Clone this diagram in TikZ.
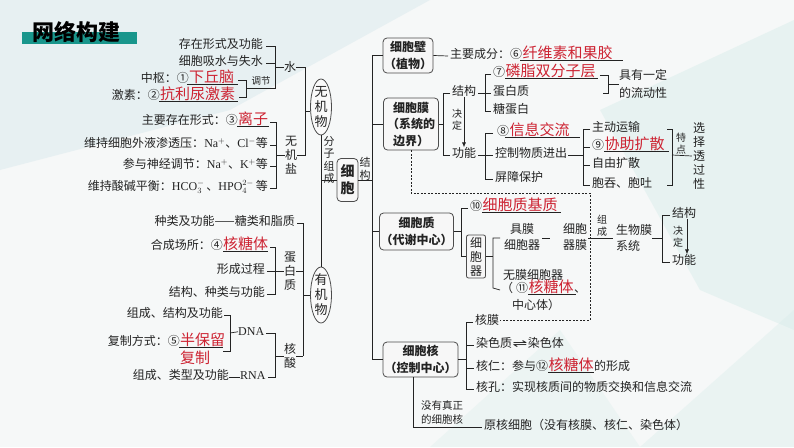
\documentclass[tikz,border=0pt]{standalone}
\usepackage{fontspec}
\setmainfont{Noto Sans CJK SC}
\newfontfamily\lat{Liberation Serif}
\newfontfamily\djv{DejaVu Sans}
\usetikzlibrary{arrows.meta,shapes.geometric}
\definecolor{ansred}{RGB}{205,35,50}
\definecolor{ttl}{RGB}{25,150,140}
\definecolor{ink}{RGB}{35,35,35}
\definecolor{bgc}{RGB}{246,248,248}
\definecolor{bgb}{RGB}{226,237,240}
\definecolor{bgt}{RGB}{214,236,233}
\newcommand\ansline[3]{\draw[ln] ([xshift=#2pt,yshift=-0.5pt]#1.south west) -- ([xshift=#3pt,yshift=-0.5pt]#1.south east);}
\tikzset{
  t/.style={inner sep=0pt, text=ink, font=\fontsize{12}{14}\selectfont},
  a/.style={inner sep=0pt, text=ansred, font=\fontsize{15}{17}\selectfont},
  sm/.style={inner sep=0pt, text=ink, font=\fontsize{10}{12}\selectfont, align=center},
  vt/.style={inner sep=0pt, text=ink, font=\fontsize{12}{14}\selectfont, align=center},
  bx/.style={draw=black!70, line width=0.8pt, rounded corners=4pt, fill=black!3, align=center, inner sep=0pt, text=ink, font=\fontsize{12}{16.5}\selectfont\bfseries},
  el/.style={ellipse, draw=black!70, line width=0.8pt, fill=black!2, inner xsep=0pt, inner ysep=-5pt, minimum width=21pt, minimum height=56pt, align=center, text=ink, font=\fontsize{13}{15}\selectfont},
  ln/.style={draw=ink, line width=0.7pt},
  dsh/.style={draw=ink, line width=0.6pt, dash pattern=on 2pt off 1.5pt},
  arr/.style={ln, -{Latex[length=5pt,width=4pt]}},
}
\begin{document}
\begin{tikzpicture}[x=1pt,y=-1pt]
% background
\fill[bgc] (0,0) rectangle (794,447);
\fill[bgb, opacity=0.7] (0,0) -- (430,0) -- (230,110) -- (0,170) -- cycle;
\fill[bgt, opacity=0.45] (600,110) -- (794,20) -- (794,330) -- (700,290) -- cycle;
\fill[bgt, opacity=0.35] (640,447) -- (794,310) -- (794,447) -- cycle;
\fill[bgt, opacity=0.3] (430,447) -- (560,330) -- (640,447) -- cycle;
\useasboundingbox (0,0) rectangle (794,447);

% title
\fill[ttl] (22,31.5) rectangle (137,43.5);
\node[inner sep=0pt, font=\fontsize{22}{24}\selectfont\bfseries] (title) at (76,32) {网络构建};

% ---------- water ----------
\node[t, anchor=mid east] (w1) at (263,46) {存在形式及功能};
\node[t, anchor=mid east] (w2) at (263,63) {细胞吸水与失水};
\node[a, anchor=mid west] (w3a) at (189,80) {下丘脑};
\node[t, anchor=mid east] (w3) at (w3a.mid west) {中枢：①};
\node[a, anchor=mid west] (w4a) at (160,97) {抗利尿激素};
\node[t, anchor=mid east] (w4) at (w4a.mid west) {激素：②};
\ansline{w3a}{-2}{4}
\ansline{w4a}{-1}{3}
\coordinate (tj) at (246,88);
\draw[ln] (w3a.mid east) ++(4,0) -| (tj);
\draw[ln] (w4a.mid east) ++(4,0) -| (tj);
\node[sm, font=\fontsize{9.5}{11}\selectfont] (tjl) at (261,81) {调节};
\node[vt] (shui) at (290,67) {水};
\draw[ln] (w1.mid east) ++(3,0) -- ++(9,0) |- (tj);
\draw[ln] (w2.mid east) ++(3,0) -- ++(9,0);
\draw[ln] (275,67) -- (shui.west);

% ---------- inorganic salt ----------
\node[a, anchor=mid west] (s1a) at (238,122) {离子};
\node[t, anchor=mid east] (s1) at (s1a.mid west) {主要存在形式：③};
\ansline{s1a}{-1}{1}
\node[t, anchor=mid east] (s2) at (268,145) {维持细胞外液渗透压：{\lat Na$^{+}$}、{\lat Cl$^{-}$}等};
\node[t, anchor=mid east] (s3) at (268,166) {参与神经调节：{\lat Na$^{+}$}、{\lat K$^{+}$}等};
\node[t, anchor=mid east] (s4) at (268,188) {维持酸碱平衡：{\lat HCO$_3^{-}$}\,、{\lat HPO$_4^{2-}$}\,等};
\node[vt] (yjy) at (291,155) {无\\机\\盐};
\coordinate (bs2) at (276,188);
\draw[ln] (s1a.mid east) ++(2,0) -| (bs2) -- ([xshift=2pt]s4.mid east);
\draw[ln] (s2.mid east) ++(2,0) -- ++(6,0);
\draw[ln] (s3.mid east) ++(2,0) -- ++(6,0);
\draw[ln] (276,155) -- (yjy.west);

% ---------- inorganic matter ----------
\node[el] (wjw) at (321,107) {无\\机\\物};
\coordinate (v1t) at (305,67);
\coordinate (v1b) at (305,155);
\draw[ln] (shui.east) -- (v1t) -- (v1b) -- (yjy.east);
\draw[ln] (305,111) -- (wjw.west |- 305,111);
\node[sm, font=\fontsize{11}{12.5}\selectfont] (fzzc) at (329,160) {分\\子\\组\\成};

% ---------- cell ----------
\node[bx, font=\fontsize{14}{17}\selectfont\bfseries, minimum width=21pt, minimum height=43pt] (xb) at (347.5,180) {细\\胞};
\node[sm, font=\fontsize{11}{12.5}\selectfont] (jgl) at (365,169) {结\\构};
\node[el] (yjw) at (321,295) {有\\机\\物};
\draw[ln] (wjw.south) -- (yjw.north);
\draw[ln] (wjw.south |- xb.west) -- (xb.west);
\coordinate (sp1) at (372,55);
\coordinate (sp2) at (372,360);
\draw[ln] (sp1) -- (sp2);
\draw[ln] (xb.east) -- (xb.east -| sp1);

% ---------- organic matter ----------
\coordinate (v2t) at (303,223);
\coordinate (v2b) at (303,356);
\draw[ln] (v2t) -- (v2b);
\draw[ln] (303,295) -- (yjw.west);
\node[t, anchor=mid east] (o1) at (295,223) {种类及功能——糖类和脂质};
\draw[ln] (o1.mid east) ++(2,0) -- (v2t);

\node[a, anchor=mid west] (p1a) at (223,247) {核糖体};
\node[t, anchor=mid east] (p1) at (p1a.mid west) {合成场所：④};
\ansline{p1a}{0}{0}
\node[t, anchor=mid east] (p2) at (265,271) {形成过程};
\node[t, anchor=mid east] (p3) at (265,294) {结构、种类与功能};
\node[vt] (dbz) at (290,271) {蛋\\白\\质};
\coordinate (bp2) at (275,294);
\draw[ln] (p1a.mid east) ++(2,0) -| (bp2) -- ([xshift=2pt]p3.mid east);
\draw[ln] (p2.mid east) ++(2,0) -- (dbz.west);
\draw[ln] (dbz.east) -- (dbz.east -| v2t);

\node[t, anchor=mid east] (d1) at (223,315) {组成、结构及功能};
\node[a, anchor=mid west] (d2a) at (180,343) {半保留};
\node[t, anchor=mid east] (d2) at (d2a.mid west) {复制方式：⑤};
\node[a, anchor=mid west] (d2b) at (180,361) {复制};
\ansline{d2a}{-1}{-2}
\coordinate (bd) at (230,351);
\draw[ln] (d1.mid east) ++(1,0) -| (bd) -- ++(-7,0);
\node[inner sep=0pt, text=ink, anchor=mid west, font=\lat\fontsize{12}{14}\selectfont] (dna) at (238,333) {DNA};
\draw[ln] (230,333) -- (dna.west);
\node[t, anchor=mid east] (d3) at (229,377) {组成、类型及功能};
\node[inner sep=0pt, text=ink, anchor=mid west, font=\lat\fontsize{12}{14}\selectfont] (rna) at (240,377) {RNA};
\draw[ln] (d3.mid east) -- (rna.mid west);
\node[vt] (hs) at (290,356) {核\\酸};
\coordinate (bn) at (275,377);
\draw[ln] (dna.mid east) ++(2,0) -| (bn) -- ([xshift=2pt]rna.mid east);
\draw[ln] (275,356) -- (hs.west);
\draw[ln] (hs.east) -- (v2b);

% ---------- cell wall ----------
\node[bx, minimum width=50pt, minimum height=35pt] (cbb) at (408,55.5) {细胞壁\\（植物）};
\draw[ln] (cbb.west -| sp1) -- (cbb.west);
\node[t, anchor=mid west] (cw1) at (450,56) {主要成分：⑥};
\node[a, anchor=mid west] (cw1a) at (cw1.mid east) {纤维素和果胶};
\ansline{cw1a}{-2}{10}
\draw[ln] (cbb.east) -- ([xshift=-2pt]cw1.mid west);

% ---------- cell membrane ----------
\node[bx, minimum width=55pt, minimum height=52pt] (cbm) at (411,124) {细胞膜\\（系统的\\边界）};
\draw[ln] (cbm.west -| sp1) -- (cbm.west);
\node[t, anchor=mid west] (mjg) at (452,93) {结构};
\node[t, anchor=mid west] (mgn) at (452,155) {功能};
\draw[ln] (mjg.mid west) ++(-2,0) -| (443,155) -- ([xshift=-2pt]mgn.mid west);
\draw[ln] (cbm.east) -- (cbm.east -| 443,0);
\node[sm] (jd1) at (457,120) {决\\定};
\draw[arr] (mjg.south -| 464,0) -- (mgn.north -| 464,0);

\node[t, anchor=mid west] (m7) at (493,74) {⑦};
\node[a, anchor=mid west] (m7a) at (m7.mid east) {磷脂双分子层};
\ansline{m7a}{0}{2}
\node[t, anchor=mid west] (m8b) at (493,93) {蛋白质};
\node[t, anchor=mid west] (m9b) at (493,111) {糖蛋白};
\draw[ln] (mjg.mid east) ++(2,0) -- ([xshift=-2pt]m8b.mid west);
\draw[ln] (m7.mid west) ++(-2,0) -| (485,111) -- ([xshift=-2pt]m9b.mid west);
\node[t, anchor=west, align=left, font=\fontsize{12}{18}\selectfont] (lds) at (619,84) {具有一定\\的流动性};
\draw[ln] (m7a.mid east) ++(4,1) -- (608,75) -- (608,93) -- ++(-5,0);
\draw[ln] (608,84) -- (lds.west);

\node[t, anchor=mid west] (f8) at (497,133) {⑧};
\node[a, anchor=mid west] (f8a) at (f8.mid east) {信息交流};
\ansline{f8a}{-4}{10}
\node[t, anchor=mid west] (f2) at (495,155) {控制物质进出};
\node[t, anchor=mid west] (f3) at (495,179) {屏障保护};
\draw[ln] (mgn.mid east) ++(2,0) -- ([xshift=-2pt]f2.mid west);
\draw[ln] (f8.mid west) ++(-4,0) -| (485,179) -- ([xshift=-2pt]f3.mid west);

\node[t, anchor=mid west] (g1) at (592,129) {主动运输};
\node[t, anchor=mid west] (g2) at (592,147) {⑨};
\node[a, anchor=mid west] (g2a) at (g2.mid east) {协助扩散};
\ansline{g2a}{0}{4}
\node[t, anchor=mid west] (g3) at (592,165) {自由扩散};
\node[t, anchor=mid west] (g4) at (592,185) {胞吞、胞吐};
\draw[ln] (f2.mid east) ++(1,0) -- (583,155);
\draw[ln] (g1.mid west) ++(-2,0) -| (583,185) -- ([xshift=-2pt]g4.mid west);
\draw[ln] (583,147) -- ([xshift=-2pt]g2.mid west);
\draw[ln] (583,165) -- ([xshift=-2pt]g3.mid west);
\coordinate (tdb) at (672,185);
\draw[ln] (667,129) -| (tdb) -- ++(-5,0);
\node[sm] (td) at (681,144) {特\\点};
\node[vt] (xz) at (699,156) {选\\择\\透\\过\\性};
\draw[ln] (672,155) -- ([xshift=-1pt]xz.west);

% ---------- cytoplasm ----------
\node[bx, minimum width=74pt, minimum height=37pt] (cbz) at (416.5,231.5) {细胞质\\（代谢中心）};
\draw[ln] (cbz.west -| sp1) -- (cbz.west);
\node[t, anchor=mid west] (z10) at (470,208) {⑩};
\node[a, anchor=mid west] (z10a) at (z10.mid east) {细胞质基质};
\ansline{z10a}{0}{3}
\node[bx, rounded corners=2pt, font=\fontsize{12}{14}\selectfont, minimum width=19pt, minimum height=43pt] (xbq) at (476,256.5) {细\\胞\\器};
\draw[ln] (z10.mid west) ++(-2,0) -| (461,256.5) -- (xbq.west);
\draw[ln] (cbz.east) -- (cbz.east -| 461,0);
\node[t, align=center, font=\fontsize{12}{16}\selectfont] (jm) at (522,237) {具膜\\细胞器};
\node[t, anchor=mid west] (wm) at (503,277) {无膜细胞器};
\node[t, anchor=mid west] (wm2) at (501,290) {（\hspace{3pt}⑪};
\node[a, anchor=mid west] (wm2a) at (wm2.mid east) {核糖体};
\ansline{wm2a}{0}{2}
\node[t, anchor=mid west] (wm3) at (wm2a.mid east) {、};
\node[t, anchor=mid west] (wm4) at (512,307) {中心体）};
\draw[ln] (xbq.east) -- (493,256.5);
\draw[ln] (500,238) -| (493,288) -- ([xshift=-1pt]wm2.mid west);
\node[t, align=center, font=\fontsize{12}{16}\selectfont] (xbqm) at (575,237) {细胞\\器膜};
\draw[ln] (jm.east) ++(2,1) -- ++(8,0);
\node[t, anchor=west, align=left, font=\fontsize{12}{16}\selectfont] (swm) at (616,238) {生物膜\\系统};
\node[sm] (zc) at (602,226) {组\\成};
\draw[ln] (xbqm.east) ++(1,1) -- ([xshift=-3pt,yshift=0pt]swm.west);
\coordinate (swb) at (662,262);
\draw[ln] (swm.east) -- (662,238);
\node[t, anchor=mid west] (sj) at (672,215) {结构};
\node[t, anchor=mid west] (sg) at (672,262) {功能};
\draw[ln] (sj.mid west) ++(-2,0) -| (swb) -- ([xshift=-2pt]sg.mid west);
\node[sm] (jd2) at (678,237) {决\\定};
\draw[arr] (sj.south -| 687,0) -- (sg.north -| 687,0);

% ---------- nucleus ----------
\node[bx, minimum width=75pt, minimum height=35pt] (cbh) at (420.5,359.5) {细胞核\\（控制中心）};
\draw[ln] (cbh.west -| sp2) -- (cbh.west);
\node[t, anchor=mid west] (hm) at (475,322) {核膜};
\node[t, anchor=mid west] (h2) at (476,345) {染色质};
\node[inner sep=0pt, text=ink, anchor=mid west, font=\djv\fontsize{11}{13}\selectfont] (h2x) at (h2.mid east) {\scalebox{1.6}[1]{⇌}};
\node[t, anchor=mid west] (h2b) at (h2x.mid east) {染色体};
\node[t, anchor=mid west] (h3) at (476,368) {核仁：参与⑫};
\node[a, anchor=mid west] (h3a) at (h3.mid east) {核糖体};
\ansline{h3a}{0}{0}
\node[t, anchor=mid west] (h3b) at (h3a.mid east) {的形成};
\node[t, anchor=mid west] (h4) at (476,389) {核孔：实现核质间的物质交换和信息交流};
\draw[ln] (hm.mid west) ++(-2,0) -| (466,389) -- ([xshift=-2pt]h4.mid west);
\draw[ln] (466,345) -- ([xshift=-2pt]h2.mid west);
\draw[ln] (466,368) -- ([xshift=-2pt]h3.mid west);
\draw[ln] (cbh.east) -- (cbh.east -| 466,0);
\coordinate (dc1) at (590,193);
\draw[dsh] (cbm.south) |- (dc1) -- (dc1 |- hm.east) -- ([xshift=1pt]hm.east);

\node[t, anchor=mid west] (pk) at (484,427) {原核细胞（没有核膜、核仁、染色体）};
\node[sm, align=left, anchor=west, font=\fontsize{10.5}{14}\selectfont] (mz) at (421,413) {没有真正\\的细胞核};
\coordinate (pkc) at (413,427);
\draw[ln] (pkc |- cbh.south) -- (pkc) -- ([xshift=-2pt]pk.mid west);
\end{tikzpicture}
\end{document}
